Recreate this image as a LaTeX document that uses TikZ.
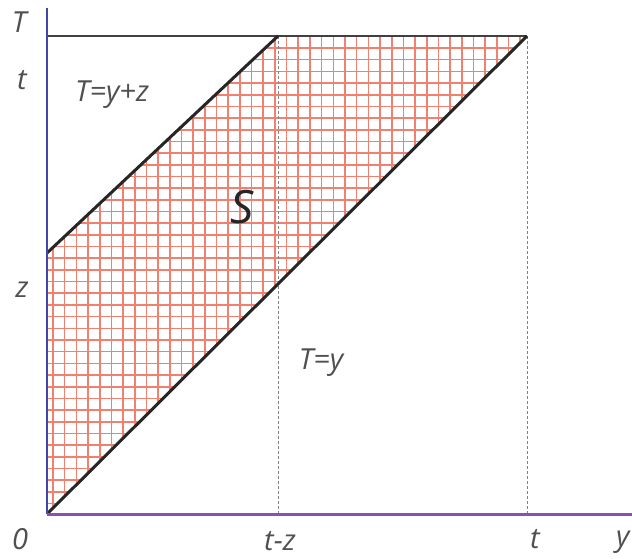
\documentclass[tikz,border=0pt]{standalone}
\usepackage{fontspec}
\setmainfont{Open Sans}
\definecolor{gridred}{RGB}{240,128,112}
\definecolor{axisblue}{RGB}{70,70,170}
\definecolor{axispurple}{RGB}{140,80,180}
\definecolor{labelgray}{RGB}{80,80,80}
\definecolor{dashgray}{RGB}{130,130,130}
\begin{document}
\begin{tikzpicture}[x=1pt,y=-1pt,
  lbl/.style={font=\itshape\fontsize{29}{33}\selectfont, text=labelgray, inner sep=0pt},
  bigS/.style={font=\itshape\fontsize{46}{50}\selectfont, text=black!85, inner sep=0pt},
  diag/.style={line width=3pt, black!85},
  guide/.style={dashgray, line width=0.7pt, dash pattern=on 3pt off 2pt},
  hatch/.style={gridred, line width=1.6pt}]
\useasboundingbox (0,0) rectangle (632,558);
% key points
\coordinate (O) at (47,514);
\coordinate (Z) at (47,253);
\coordinate (A) at (278,36);
\coordinate (B) at (527,36);
\coordinate (TL) at (47,36);
\coordinate (Ttop) at (47,8);
\coordinate (Yend) at (632,514);
\coordinate (Atz) at (278,514);
\coordinate (At) at (527,514);
% hatched region
\begin{scope}
  \clip (Z) -- (A) -- (B) -- (O) -- cycle;
  \foreach \k in {0,...,41} {
    \draw[hatch] ({53+\k*11.68},30) -- ({53+\k*11.68},520);
  }
  \foreach \k in {0,...,41} {
    \draw[hatch] (40,{503.5-\k*11.68}) -- (540,{503.5-\k*11.68});
  }
\end{scope}
% guides
\draw[guide] (A) -- (Atz);
\draw[guide] (B) -- (At);
% top line
\draw[line width=1.6pt, black!75] (TL) -- (B);
% diagonals
\draw[diag] (Z) -- (A);
\draw[diag] (O) -- (B);
% axes
\draw[axisblue, line width=2.6pt] (O) -- (Ttop);
\draw[axispurple, line width=3pt] (O) -- (Yend);
% labels
\node[lbl] (lT) at (19,22) {T};
\node[lbl] (lt) at (22,80) {t};
\node[lbl] (lz) at (22,290) {z};
\node[lbl] (l0) at (20,539) {0};
\node[lbl] (ltz) at (280,541) {t-z};
\node[lbl] (ltt) at (535,539) {t};
\node[lbl, anchor=west] (ly) at (616,542) {y};
\node[lbl] (eq1) at (112,95) {T=y+z};
\node[bigS] (S) at (242,207) {S};
\node[lbl] (eq2) at (321,363) {T=y};
\end{tikzpicture}
\end{document}
